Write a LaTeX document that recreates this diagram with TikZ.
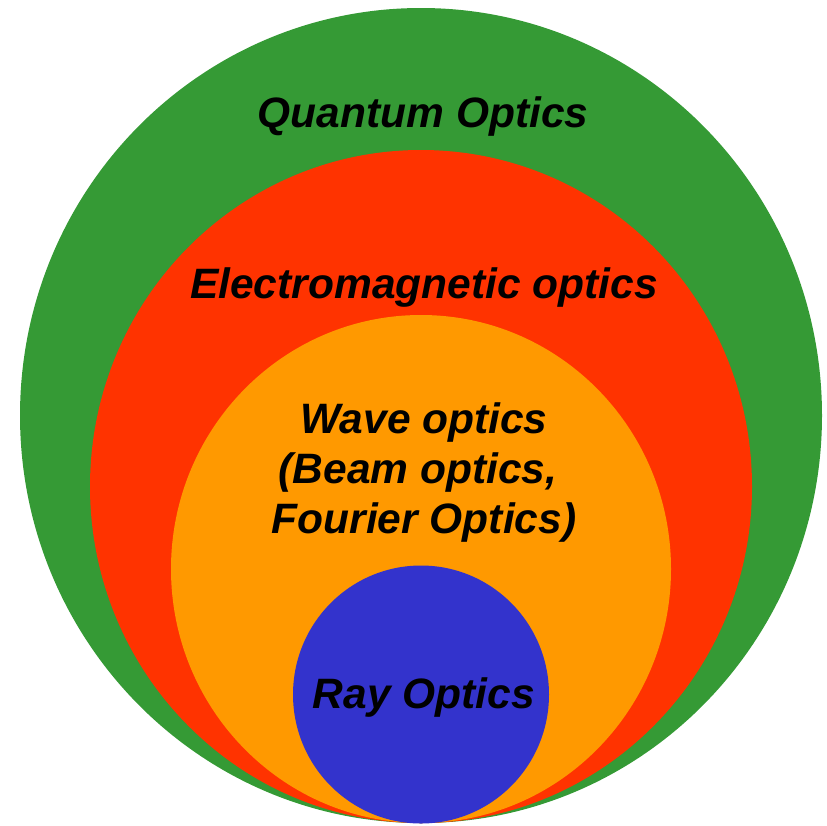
\documentclass[tikz,border=0pt]{standalone}
\usepackage{fontspec}
\setmainfont{Liberation Sans}
\definecolor{qgreen}{RGB}{53,154,53}
\definecolor{emred}{RGB}{255,51,0}
\definecolor{waveorange}{RGB}{255,153,0}
\definecolor{rayblue}{RGB}{51,51,204}
\begin{document}
\begin{tikzpicture}[x=1pt, y=-1pt,
    lbl/.style={font=\fontsize{42.5}{50}\selectfont\bfseries\itshape, inner sep=0pt, anchor=base, align=center}]
    \useasboundingbox (0,0) rectangle (827,825);
    \fill[qgreen] (421,415.5) ellipse [x radius=401, y radius=407.5];
    \fill[emred] (421,486.5) ellipse [x radius=331, y radius=336.5];
    \fill[waveorange] (421,569) ellipse [x radius=250, y radius=254];
    \fill[rayblue] (421,694.5) ellipse [x radius=128, y radius=129];
    \node[lbl] (quantum) at (423,127) {Quantum Optics};
    \node[lbl] (em) at (424,298) {Electromagnetic optics};
    \node[lbl] (wave) at (424,533) {Wave optics\\(Beam optics,\phantom{i}\\Fourier Optics)};
    \node[lbl] (ray) at (424,708) {Ray Optics};
\end{tikzpicture}
\end{document}
